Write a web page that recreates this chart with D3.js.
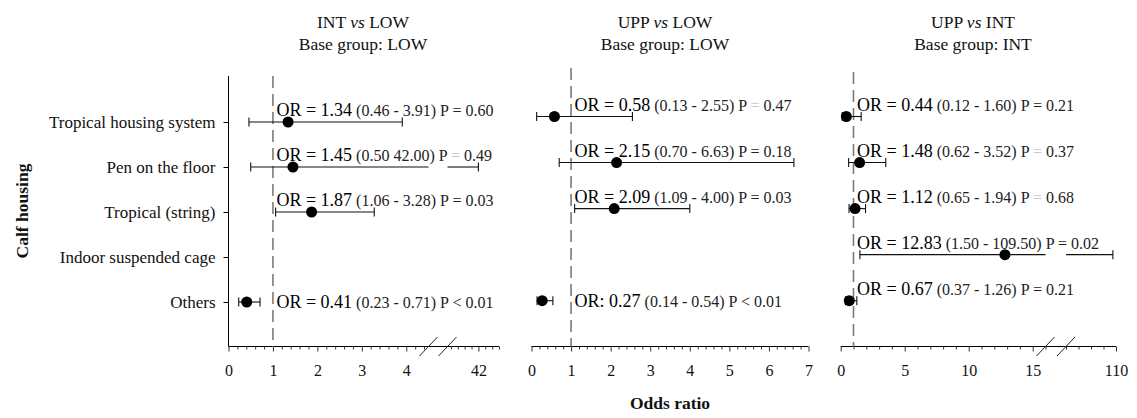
<!DOCTYPE html>
<html>
<head>
<meta charset="utf-8">
<script src="https://cdn.jsdelivr.net/npm/d3@7"></script>
<style>
  html, body { margin: 0; padding: 0; background: #fff; }
  svg { display: block; font-family: "Liberation Serif", "Times New Roman", serif; }
</style>
</head>
<body>
<svg id="chart" width="1137" height="418"></svg>
<script>
// ---- data ----------------------------------------------------------------
const categories = ["Tropical housing system", "Pen on the floor", "Tropical (string)", "Indoor suspended cage", "Others"];

// INT vs LOW (base group LOW)
const orIntLow = [1.34, 1.45, 1.87, null, 0.41];
const loIntLow = [0.46, 0.50, 1.06, null, 0.23];
const hiIntLow = [3.91, 42.00, 3.28, null, 0.71];
const pIntLow  = ["= 0.60", "= 0.49", "= 0.03", null, "< 0.01"];

// UPP vs LOW (base group LOW)
const orUppLow = [0.58, 2.15, 2.09, null, 0.27];
const loUppLow = [0.13, 0.70, 1.09, null, 0.14];
const hiUppLow = [2.55, 6.63, 4.00, null, 0.54];
const pUppLow  = ["= 0.47", "= 0.18", "= 0.03", null, "< 0.01"];

// UPP vs INT (base group INT)
const orUppInt = [0.44, 1.48, 1.12, 12.83, 0.67];
const loUppInt = [0.12, 0.62, 0.65, 1.50, 0.37];
const hiUppInt = [1.60, 3.52, 1.94, 109.50, 1.26];
const pUppInt  = ["= 0.21", "= 0.37", "= 0.68", "= 0.02", "= 0.21"];

const titleGroups = [["INT", "LOW"], ["UPP", "LOW"], ["UPP", "INT"]];
const baseGroups  = ["LOW", "LOW", "INT"];

// tick labels per axis segment
const tickLabelsIntLow = [[0, 1, 2, 3, 4], [42]];
const tickLabelsUppLow = [[0, 1, 2, 3, 4, 5, 6, 7]];
const tickLabelsUppInt = [[0, 5, 10, 15], [110]];

// ---- layout ----------------------------------------------------------------
const svg = d3.select("#chart");
const axisY = 346.5;
const FONT_OR = 18, FONT_CI = 16;

const panels = [
  {
    or: orIntLow, lo: loIntLow, hi: hiIntLow, p: pIntLow,
    segs: [
      { d: [0, 4.5], r: [228.5, 428.5], minor: 0.2, major: 1, labels: tickLabelsIntLow[0] },
      { d: [37.5, 45], r: [447.5, 499], minor: 1, major: 42, labels: tickLabelsIntLow[1] }
    ],
    rowRange: [122, 302], dashTop: 76, yAxis: true, titleX: 363,
    orSep: [" = ", " = ", " = ", null, " = "],
    centered: ["Others"], faintSep: { p: [1], ci: [1] }, hiddenSep: { p: [], ci: [1] }
  },
  {
    or: orUppLow, lo: loUppLow, hi: hiUppLow, p: pUppLow,
    segs: [
      { d: [0, 7], r: [531.5, 808.5], minor: 0.2, major: 1, labels: tickLabelsUppLow[0] }
    ],
    rowRange: [116.5, 300.7], dashTop: 68, yAxis: false, titleX: 665,
    orSep: [" = ", " = ", " = ", null, ": "],
    centered: ["Others"], faintSep: { p: [0], ci: [] }, hiddenSep: { p: [], ci: [] }
  },
  {
    or: orUppInt, lo: loUppInt, hi: hiUppInt, p: pUppInt,
    segs: [
      { d: [0, 16], r: [840.7, 1045.5], minor: 1, major: 5, labels: tickLabelsUppInt[0] },
      { d: [102, 110], r: [1066, 1116], minor: 2, major: 110, labels: tickLabelsUppInt[1] }
    ],
    rowRange: [116.5, 300.7], dashTop: 72, yAxis: false, titleX: 973,
    orSep: [" = ", " = ", " = ", " = ", " = "],
    centered: [], faintSep: { p: [1, 2], ci: [] }, hiddenSep: { p: [], ci: [] }
  }
];

// piecewise (broken) linear scale built from d3 linear scales
function brokenScale(segs) {
  const sc = segs.map(s => d3.scaleLinear().domain(s.d).range(s.r));
  const f = v => {
    for (let i = 0; i < segs.length; i++) {
      if (v <= segs[i].d[1] || i === segs.length - 1) return sc[i](v);
    }
  };
  f.segScales = sc;
  return f;
}

panels.forEach((pn, pi) => {
  const g = svg.append("g");
  const x = brokenScale(pn.segs);
  const y = d3.scalePoint().domain(categories).range(pn.rowRange);
  const xOne = x(1);
  const xStart = pn.segs[0].r[0];
  const xEnd = pn.segs[pn.segs.length - 1].r[1];

  // titles
  const t1 = g.append("text").attr("x", pn.titleX).attr("y", 28)
    .attr("text-anchor", "middle").attr("font-size", 17.5).attr("fill", "#111");
  t1.append("tspan").text(titleGroups[pi][0] + " ");
  t1.append("tspan").attr("font-style", "italic").text("vs");
  t1.append("tspan").text(" " + titleGroups[pi][1]);
  g.append("text").attr("x", pn.titleX).attr("y", 50)
    .attr("text-anchor", "middle").attr("font-size", 17.5).attr("fill", "#111")
    .text("Base group: " + baseGroups[pi]);

  // y axis with category labels (first panel only)
  if (pn.yAxis) {
    const yAxis = d3.axisLeft(y).tickSize(5).tickPadding(8);
    const ya = g.append("g").attr("transform", `translate(${xStart},0)`).call(yAxis);
    ya.select(".domain").remove();
    ya.append("line").attr("x1", 0).attr("x2", 0).attr("y1", 76).attr("y2", axisY)
      .attr("stroke", "#000").attr("stroke-width", 1);
    ya.selectAll(".tick line").attr("stroke", "#000");
    ya.selectAll(".tick text").attr("font-size", 17).attr("fill", "#111")
      .attr("font-family", "Liberation Serif, serif");
  }

  // x axis: one d3 axis per segment, joined by a single baseline
  g.append("line").attr("x1", xStart).attr("x2", xEnd).attr("y1", axisY).attr("y2", axisY)
    .attr("stroke", "#000").attr("stroke-width", 1);
  pn.segs.forEach((s, si) => {
    const sc = x.segScales[si];
    const lo = Math.ceil(s.d[0] / s.minor - 1e-9), hi = Math.floor(s.d[1] / s.minor + 1e-9);
    const minorVals = d3.range(lo, hi + 1).map(k => +(k * s.minor).toFixed(4));
    const isMajor = v => Math.abs(v / s.major - Math.round(v / s.major)) < 1e-6;
    const ax = g.append("g").attr("transform", `translate(0,${axisY})`)
      .call(d3.axisBottom(sc).tickValues(minorVals).tickSizeOuter(0).tickFormat(""));
    ax.select(".domain").remove();
    ax.selectAll(".tick line")
      .attr("y2", d => isMajor(d) ? 5 : 3)
      .attr("stroke", "#333").attr("stroke-width", 1);
    const lab = g.append("g").attr("transform", `translate(0,${axisY})`)
      .call(d3.axisBottom(sc).tickValues(s.labels).tickSize(0).tickPadding(18).tickFormat(d3.format("d")));
    lab.select(".domain").remove();
    lab.selectAll("text").attr("font-size", 16).attr("fill", "#111")
      .attr("font-family", "Liberation Serif, serif");
  });

  // break marks on the axis
  if (pn.segs.length > 1) {
    [pn.segs[0].r[1], pn.segs[1].r[0]].forEach(bx => {
      g.append("line")
        .attr("x1", bx - 9).attr("y1", axisY + 9.5)
        .attr("x2", bx + 9).attr("y2", axisY - 9.5)
        .attr("stroke", "#222").attr("stroke-width", 1);
    });
  }

  // reference line at OR = 1
  g.append("line").attr("x1", xOne).attr("x2", xOne)
    .attr("y1", pn.dashTop).attr("y2", axisY)
    .attr("stroke", "#7a7a7a").attr("stroke-width", 1.6)
    .attr("stroke-dasharray", "12,6");

  // estimates with confidence intervals
  categories.forEach((cat, i) => {
    const orv = pn.or[i];
    if (orv == null) return;
    const cy = y(cat);
    const lo = pn.lo[i], hi = pn.hi[i];
    const broken = pn.segs.length > 1 && hi > pn.segs[0].d[1];
    const wg = g.append("g").attr("stroke", "#111").attr("stroke-width", 1.1);
    if (broken) {
      wg.append("line").attr("x1", x(lo)).attr("x2", pn.segs[0].r[1]).attr("y1", cy).attr("y2", cy);
      wg.append("line").attr("x1", pn.segs[1].r[0]).attr("x2", x(hi)).attr("y1", cy).attr("y2", cy);
    } else {
      wg.append("line").attr("x1", x(lo)).attr("x2", x(hi)).attr("y1", cy).attr("y2", cy);
    }
    [lo, hi].forEach(v => {
      wg.append("line").attr("x1", x(v)).attr("x2", x(v)).attr("y1", cy - 4.5).attr("y2", cy + 4.5);
    });
    g.append("circle").attr("cx", x(orv)).attr("cy", cy).attr("r", 5.5).attr("fill", "#000");

    // annotation
    const centered = pn.centered.includes(cat);
    const ty = centered ? cy + 6 : cy - 6;
    const t = g.append("text").attr("x", xOne + 3.5).attr("y", ty).attr("fill", "#000");
    t.append("tspan").attr("font-size", FONT_OR).text("OR" + pn.orSep[i] + orv.toFixed(2));
    const ciHidden = pn.hiddenSep.ci.includes(i);
    const ciFaint = pn.faintSep.ci.includes(i);
    t.append("tspan").attr("font-size", FONT_CI).attr("fill", "#222")
      .text(" (" + lo.toFixed(2) + (ciHidden ? " " : " - ") + hi.toFixed(2) + ") P ");
    const pSign = pn.p[i].slice(0, 1), pVal = pn.p[i].slice(2);
    const pFaint = pn.faintSep.p.includes(i);
    t.append("tspan").attr("font-size", FONT_CI).attr("fill", pFaint ? "#c8c8c8" : "#222").text(pSign);
    t.append("tspan").attr("font-size", FONT_CI).attr("fill", "#222").text(" " + pVal);
  });
});

// shared axis titles
svg.append("text").attr("transform", "translate(28,211) rotate(-90)")
  .attr("text-anchor", "middle").attr("font-size", 17.5).attr("font-weight", "bold")
  .attr("fill", "#111").text("Calf housing");
svg.append("text").attr("x", 670).attr("y", 409)
  .attr("text-anchor", "middle").attr("font-size", 17.5).attr("font-weight", "bold")
  .attr("fill", "#111").text("Odds ratio");
</script>
</body>
</html>
